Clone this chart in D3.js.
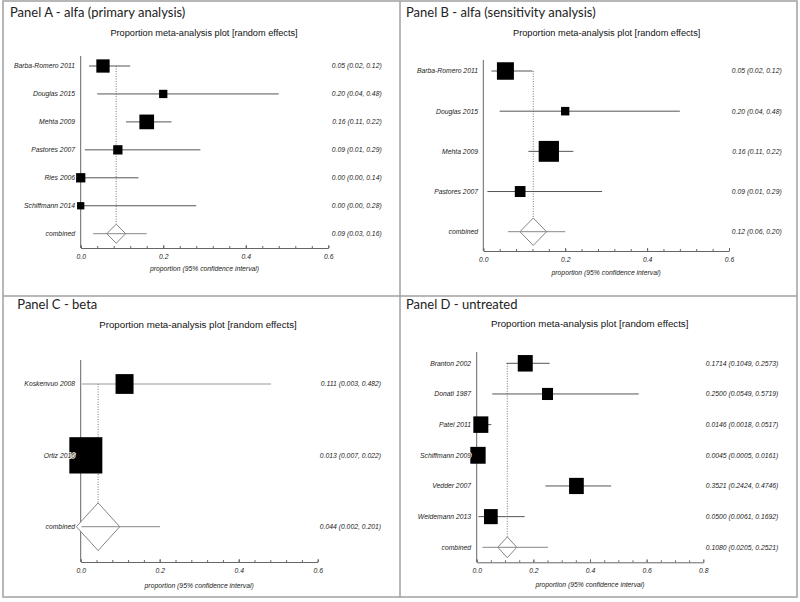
<!DOCTYPE html>
<html>
<head>
<meta charset="utf-8">
<script src="https://cdn.jsdelivr.net/npm/d3@7"></script>
<style>
  body { margin: 0; background: #fff; }
</style>
</head>
<body>
<div id="chart"></div>
<script>
// Panel A - alfa (primary analysis)
var studiesA = ["Barba-Romero 2011", "Douglas 2015", "Mehta 2009", "Pastores 2007", "Ries 2006", "Schiffmann 2014"];
var estA = [0.054, 0.20, 0.16, 0.09, 0.00, 0.00];
var lowA = [0.02, 0.04, 0.11, 0.01, 0.00, 0.00];
var highA = [0.12, 0.48, 0.22, 0.29, 0.14, 0.28];
var weightA = [25.7, 10.0, 31.4, 12.6, 12.6, 7.7];
var pooledA = [0.086, 0.03, 0.16];

// Panel B - alfa (sensitivity analysis)
var studiesB = ["Barba-Romero 2011", "Douglas 2015", "Mehta 2009", "Pastores 2007"];
var estB = [0.054, 0.20, 0.16, 0.09];
var lowB = [0.02, 0.04, 0.11, 0.01];
var highB = [0.12, 0.48, 0.22, 0.29];
var weightB = [32.7, 7.8, 46.6, 12.9];
var pooledB = [0.122, 0.06, 0.20];

// Panel C - beta
var studiesC = ["Koskenvuo 2008", "Ortiz 2016"];
var estC = [0.111, 0.013];
var lowC = [0.003, 0.007];
var highC = [0.482, 0.022];
var weightC = [22.9, 77.1];
var pooledC = [0.044, 0.002, 0.201];

// Panel D - untreated
var studiesD = ["Branton 2002", "Donati 1987", "Patel 2011", "Schiffmann 2009", "Vedder 2007", "Weidemann 2013"];
var estD = [0.1714, 0.2500, 0.0146, 0.0045, 0.3521, 0.0500];
var lowD = [0.1049, 0.0549, 0.0018, 0.0005, 0.2424, 0.0061];
var highD = [0.2573, 0.5719, 0.0517, 0.0161, 0.4746, 0.1692];
var weightD = [18.6, 10.0, 18.6, 19.4, 17.9, 15.5];
var pooledD = [0.1080, 0.0205, 0.2521];

var xTicksShort = [0, 0.2, 0.4, 0.6];
var xTicksLong = [0, 0.2, 0.4, 0.6, 0.8];

var subtitle = "Proportion meta-analysis plot [random effects]";
var axisTitle = "proportion (95% confidence interval)";

// where each panel sits on the page
var layout = [
  {title: "Panel A - alfa (primary analysis)", tx: 10, ty: 16.5, stx: 204, sty: 35.7, sf: 9.2,
   x0: 80.7, x1: 328.3, ticks: xTicksShort, step: 0.04, axisY: 248, axisTop: 56,
   rowTop: 66, rowBot: 233.7, labelX: 75, valueX: 381.7, boxK: 2.62, aspect: 1, dw: 9.5,
   titleOff: 22.7, dec: 2, ciColor: "#555",
   studies: studiesA, est: estA, low: lowA, high: highA, weight: weightA, pooled: pooledA},
  {title: "Panel B - alfa (sensitivity analysis)", tx: 406, ty: 16.5, stx: 606.7, sty: 35.7, sf: 9.2,
   x0: 483.3, x1: 729, ticks: xTicksShort, step: 0.04, axisY: 251, axisTop: 60,
   rowTop: 71, rowBot: 231.7, labelX: 478, valueX: 781.7, boxK: 2.97, aspect: 1.03, dw: 13.3,
   titleOff: 24, dec: 2, ciColor: "#555",
   studies: studiesB, est: estB, low: lowB, high: highB, weight: weightB, pooled: pooledB},
  {title: "Panel C - beta", tx: 17.3, ty: 309, stx: 198, sty: 328.3, sf: 9.7,
   x0: 80.7, x1: 317.7, ticks: xTicksShort, step: 0.04, axisY: 562, axisTop: 360,
   rowTop: 384, rowBot: 526.7, labelX: 75, valueX: 381, boxK: 3.76, aspect: 1.1, dw: 21.7,
   titleOff: 25.5, dec: 3, ciColor: "#999",
   studies: studiesC, est: estC, low: lowC, high: highC, weight: weightC, pooled: pooledC},
  {title: "Panel D - untreated", tx: 406, ty: 309, stx: 589.7, sty: 327.3, sf: 9.7,
   x0: 476.7, x1: 703.3, ticks: xTicksLong, step: 0.05, axisY: 562.3, axisTop: 352,
   rowTop: 363.3, rowBot: 547.3, labelX: 471, valueX: 778.3, boxK: 3.48, aspect: 1.1, dw: 9.5,
   titleOff: 25, dec: 4, ciColor: "#555",
   studies: studiesD, est: estD, low: lowD, high: highD, weight: weightD, pooled: pooledD}
];

var width = 800, height = 602;
var svg = d3.select("#chart").append("svg")
    .attr("width", width)
    .attr("height", height)
    .style("font-family", "'Liberation Sans', Arial, sans-serif");

svg.append("rect").attr("width", width).attr("height", height).attr("fill", "#fff");

// panel frames
var frame = svg.append("g").attr("stroke", "#a0a0a0").attr("stroke-width", 1.5).attr("fill", "none");
frame.append("rect").attr("x", 3).attr("y", 1).attr("width", 794).attr("height", 596);
frame.append("line").attr("x1", 3).attr("x2", 797).attr("y1", 296).attr("y2", 296);
frame.append("line").attr("x1", 400).attr("x2", 400).attr("y1", 1).attr("y2", 597);

layout.forEach(function(p) {
  var g = svg.append("g");
  var xmax = p.ticks[p.ticks.length - 1];
  var fmt = d3.format("." + p.dec + "f");

  var x = d3.scaleLinear().domain([0, xmax]).range([p.x0, p.x1]);
  var rows = p.studies.concat(["combined"]);
  var y = d3.scalePoint().domain(rows).range([p.rowTop, p.rowBot]);
  var size = d3.scaleSqrt().domain([0, 100]).range([0, p.boxK * 10]);

  var data = p.studies.map(function(s, i) {
    return {name: s, est: p.est[i], low: p.low[i], high: p.high[i], w: p.weight[i]};
  });
  var pooled = {name: "combined", est: p.pooled[0], low: p.pooled[1], high: p.pooled[2]};

  // titles
  g.append("text")
    .attr("x", p.tx).attr("y", p.ty)
    .style("font-family", "Lato, 'Open Sans', sans-serif")
    .style("font-size", "13px")
    .attr("fill", "#222")
    .text(p.title);

  g.append("text")
    .attr("x", p.stx).attr("y", p.sty)
    .attr("text-anchor", "middle")
    .style("font-size", p.sf + "px")
    .attr("fill", "#111")
    .text(subtitle);

  // vertical axis line
  g.append("line")
    .attr("x1", p.x0).attr("x2", p.x0)
    .attr("y1", p.axisTop).attr("y2", p.axisY)
    .attr("stroke", "#666").attr("stroke-width", 1);

  // X axis: minor ticks then labelled major ticks
  var minor = d3.range(0, xmax + 1e-9, p.step);
  g.append("g")
    .attr("transform", "translate(0," + p.axisY + ")")
    .call(d3.axisBottom(x).tickValues(minor).tickSizeInner(-2).tickSizeOuter(0).tickFormat(""))
    .call(function(a) {
      a.select(".domain").attr("stroke", "#666");
      a.selectAll(".tick line").attr("stroke", "#666");
    });
  g.append("g")
    .attr("transform", "translate(0," + p.axisY + ")")
    .call(d3.axisBottom(x).tickValues(p.ticks).tickSizeInner(-3).tickSizeOuter(0)
      .tickPadding(6).tickFormat(d3.format(".1f")))
    .call(function(a) {
      a.select(".domain").remove();
      a.selectAll(".tick line").attr("stroke", "#666");
      a.selectAll(".tick text")
        .style("font-family", "'Liberation Sans', Arial, sans-serif")
        .style("font-size", "6.8px")
        .style("font-style", "italic")
        .attr("fill", "#222");
    });

  g.append("text")
    .attr("x", (p.x0 + p.x1) / 2).attr("y", p.axisY + p.titleOff)
    .attr("text-anchor", "middle")
    .style("font-size", "6.8px")
    .style("font-style", "italic")
    .attr("fill", "#222")
    .text(axisTitle);

  // dotted line at the pooled estimate
  g.append("line")
    .attr("x1", x(pooled.est)).attr("x2", x(pooled.est))
    .attr("y1", y(rows[0])).attr("y2", y("combined") - p.dw * p.aspect)
    .attr("stroke", "#555").attr("stroke-width", 0.8)
    .attr("stroke-dasharray", "1,1.5");

  // confidence intervals
  g.selectAll(".ci")
    .data(data)
    .enter()
    .append("line")
      .attr("x1", function(d) { return x(d.low); })
      .attr("x2", function(d) { return x(d.high); })
      .attr("y1", function(d) { return y(d.name); })
      .attr("y2", function(d) { return y(d.name); })
      .attr("stroke", p.ciColor).attr("stroke-width", 1);

  // boxes
  g.selectAll(".box")
    .data(data)
    .enter()
    .append("rect")
      .attr("x", function(d) { return x(d.est) - size(d.w) / 2; })
      .attr("y", function(d) { return y(d.name) - size(d.w) * p.aspect / 2; })
      .attr("width", function(d) { return size(d.w); })
      .attr("height", function(d) { return size(d.w) * p.aspect; })
      .attr("fill", "#000");

  // pooled diamond and its interval
  var cx = x(pooled.est), cy = y("combined"), dh = p.dw * p.aspect;
  g.append("path")
    .attr("d", "M" + (cx - p.dw) + "," + cy + "L" + cx + "," + (cy - dh) +
               "L" + (cx + p.dw) + "," + cy + "L" + cx + "," + (cy + dh) + "Z")
    .attr("fill", "#fff").attr("stroke", "#777").attr("stroke-width", 0.9);
  g.append("line")
    .attr("x1", x(pooled.low)).attr("x2", x(pooled.high))
    .attr("y1", cy).attr("y2", cy)
    .attr("stroke", "#888").attr("stroke-width", 1);

  // study labels, drawn over the boxes with a white halo
  g.selectAll(".lab")
    .data(rows)
    .enter()
    .append("text")
      .attr("x", p.labelX)
      .attr("y", function(d) { return y(d); })
      .attr("dy", "0.35em")
      .attr("text-anchor", "end")
      .style("font-size", "6.8px")
      .style("font-style", "italic")
      .style("paint-order", "stroke")
      .attr("stroke", "#fff").attr("stroke-width", 1.5)
      .attr("fill", "#222")
      .text(function(d) { return d; });

  // estimate text on the right
  g.selectAll(".val")
    .data(data.concat([pooled]))
    .enter()
    .append("text")
      .attr("x", p.valueX)
      .attr("y", function(d) { return y(d.name); })
      .attr("dy", "0.35em")
      .attr("text-anchor", "end")
      .style("font-size", "6.8px")
      .style("font-style", "italic")
      .attr("fill", "#222")
      .text(function(d) { return fmt(d.est) + " (" + fmt(d.low) + ", " + fmt(d.high) + ")"; });
});
</script>
</body>
</html>
